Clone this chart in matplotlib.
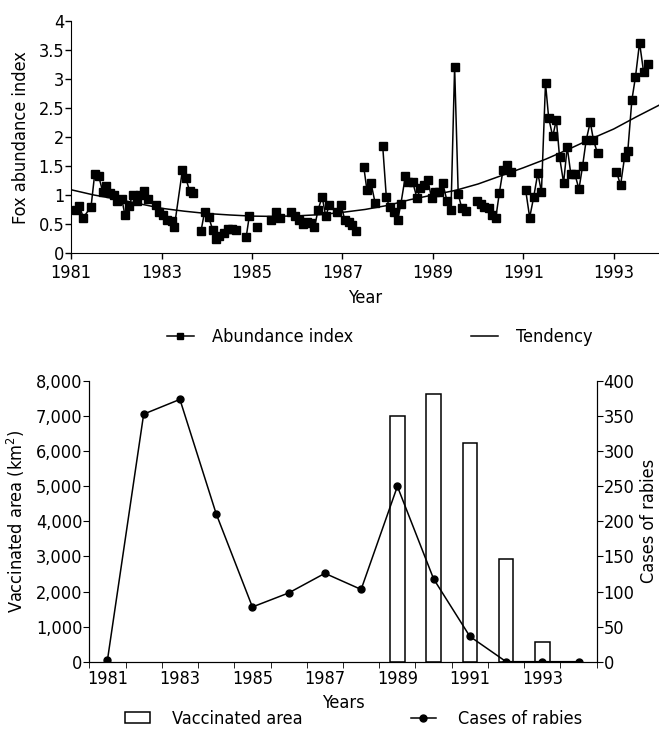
import numpy as np
import matplotlib
matplotlib.use("Agg")
import matplotlib.pyplot as plt
from matplotlib.lines import Line2D
from matplotlib.patches import Patch
from matplotlib.ticker import FuncFormatter

plt.rcParams['font.family'] = ['DejaVu Sans']
plt.rcParams['font.stretch'] = 'condensed'   # closest to the narrow face of the original
FS = 13

nan = np.nan

# fox abundance index (monthly, nan = break in the series)
abund_year = [1981.10, 1981.18, 1981.27, 1981.44, 1981.52, 1981.61, 1981.70, 1981.77, 1981.86, 1981.95,
              1982.02, 1982.12, 1982.19, 1982.28, 1982.36, 1982.45, 1982.53, 1982.61, 1982.69, 1982.87,
              1982.95, 1983.04, 1983.13, 1983.22, 1983.28, 1983.46, 1983.53, 1983.62, 1983.69, 1983.78,
              1983.87, 1983.95, 1984.04, 1984.13, 1984.20, 1984.28, 1984.37, 1984.46, 1984.55, 1984.64,
              1984.75, 1984.87, 1984.94, 1985.03, 1985.12, 1985.30, 1985.43, 1985.53, 1985.62, 1985.75,
              1985.87, 1985.96, 1986.04, 1986.13, 1986.21, 1986.30, 1986.38, 1986.46, 1986.55, 1986.63,
              1986.71, 1986.88, 1986.97, 1987.05, 1987.14, 1987.22, 1987.30, 1987.38, 1987.47, 1987.54,
              1987.63, 1987.72, 1987.80, 1987.89, 1987.97, 1988.04, 1988.13, 1988.22, 1988.29, 1988.39,
              1988.46, 1988.55, 1988.65, 1988.72, 1988.81, 1988.89, 1988.97, 1989.05, 1989.14, 1989.22,
              1989.31, 1989.40, 1989.48, 1989.56, 1989.64, 1989.73, 1989.85, 1989.98, 1990.06, 1990.14,
              1990.23, 1990.31, 1990.39, 1990.47, 1990.55, 1990.64, 1990.73, 1990.90, 1991.05, 1991.14,
              1991.23, 1991.32, 1991.40, 1991.49, 1991.56, 1991.65, 1991.73, 1991.80, 1991.89, 1991.97,
              1992.05, 1992.14, 1992.23, 1992.31, 1992.39, 1992.48, 1992.55, 1992.64, 1992.85, 1993.06,
              1993.15, 1993.24, 1993.31, 1993.40, 1993.48, 1993.57, 1993.66, 1993.75]
abund_value = [0.74, 0.81, 0.61, 0.80, 1.36, 1.32, 1.05, 1.16, 1.04, 1.00,
               0.90, 0.93, 0.65, 0.81, 1.00, 0.90, 1.00, 1.07, 0.93, 0.83,
               0.71, 0.66, 0.57, 0.55, 0.44, 1.43, 1.30, 1.07, 1.04, nan,
               0.37, 0.71, 0.62, 0.40, 0.24, 0.29, 0.35, 0.41, 0.41, 0.40,
               nan, 0.27, 0.64, nan, 0.45, nan, 0.57, 0.71, 0.60, nan,
               0.71, 0.64, 0.57, 0.50, 0.54, 0.51, 0.44, 0.74, 0.97, 0.63,
               0.83, 0.70, 0.83, 0.57, 0.54, 0.49, 0.38, nan, 1.49, 1.09,
               1.21, 0.87, nan, 1.84, 0.96, 0.79, 0.70, 0.56, 0.84, 1.32,
               1.23, 1.23, 0.94, 1.12, 1.17, 1.26, 0.94, 1.05, 1.06, 1.20,
               0.90, 0.74, 3.21, 1.01, 0.77, 0.73, nan, 0.89, 0.84, 0.80,
               0.77, 0.66, 0.60, 1.04, 1.43, 1.52, 1.40, nan, 1.09, 0.61,
               0.97, 1.38, 1.05, 2.93, 2.33, 2.01, 2.30, 1.66, 1.21, 1.83,
               1.36, 1.36, 1.10, 1.50, 1.95, 2.26, 1.95, 1.72, nan, 1.40,
               1.17, 1.66, 1.76, 2.64, 3.04, 3.63, 3.12, 3.27]

tend_year = [1981.0, 1981.5, 1982.0, 1982.5, 1983.0, 1983.5, 1984.0, 1984.5, 1985.0, 1985.5,
             1986.0, 1986.5, 1987.0, 1987.5, 1988.0, 1988.5, 1989.0, 1989.5, 1990.0, 1990.5,
             1991.0, 1991.5, 1992.0, 1992.5, 1993.0, 1993.5, 1994.0]
tend_value = [1.09, 1.00, 0.93, 0.85, 0.77, 0.72, 0.68, 0.655, 0.635, 0.63,
              0.64, 0.66, 0.70, 0.75, 0.82, 0.92, 1.00, 1.08, 1.19, 1.33,
              1.47, 1.62, 1.79, 1.97, 2.14, 2.35, 2.55]

# rabies / vaccination
years = [1981, 1982, 1983, 1984, 1985, 1986, 1987, 1988, 1989, 1990, 1991, 1992, 1993, 1994]
rabies_cases = [2, 353, 374, 211, 78, 98, 126, 103, 250, 118, 36, 0, 0, 0]
vacc_years = [1989, 1990, 1991, 1992, 1993]
vacc_area = [7020, 7620, 6250, 2930, 570]

top_ticks = [1981, 1983, 1985, 1987, 1989, 1991, 1993]

fig = plt.figure(figsize=(6.59, 7.33), dpi=100)

# ---- top panel: fox abundance
ax1 = fig.add_axes([0.108, 0.655, 0.892, 0.316])
ax1.plot(abund_year, abund_value, color='black', lw=1.1, marker='s', ms=5.5,
         markerfacecolor='black', markeredgecolor='black')
ax1.plot(tend_year, tend_value, color='black', lw=1.1)
ax1.set_xlim(1981, 1994)
ax1.set_ylim(0, 4)
ax1.set_xticks(top_ticks)
ax1.set_yticks([0, 0.5, 1, 1.5, 2, 2.5, 3, 3.5, 4])
ax1.set_yticklabels(['0', '0.5', '1', '1.5', '2', '2.5', '3', '3.5', '4'])
ax1.spines['top'].set_visible(False)
ax1.spines['right'].set_visible(False)
ax1.tick_params(direction='out', length=4, width=1, labelsize=FS, pad=1)
ax1.tick_params(axis='x', pad=4)
ax1.set_xlabel('Year', fontsize=FS, labelpad=5)
ax1.set_ylabel('Fox abundance index', fontsize=FS, labelpad=6)

h1 = [Line2D([], [], color='black', lw=1.1, marker='s', ms=5),
      Line2D([], [], color='black', lw=1.1)]
fig.legend(h1, ['Abundance index', 'Tendency'], loc='center',
           bbox_to_anchor=(0.576, 1 - 337 / 733), ncol=2, frameon=False,
           fontsize=FS, handlelength=1.5, handletextpad=1.0, columnspacing=6.5)

# ---- bottom panel: vaccination and rabies
ax2 = fig.add_axes([0.1355, 0.0973, 0.77, 0.3827])
ax2.bar(vacc_years, vacc_area, width=0.4, color='white', edgecolor='black', lw=1.1, zorder=2)
ax2.set_xlim(1980.5, 1994.5)
ax2.set_ylim(0, 8000)
ax2.set_yticks(range(0, 8001, 1000))
ax2.yaxis.set_major_formatter(FuncFormatter(lambda v, p: f'{int(v):,}'))
ax2.set_xticks(top_ticks)
ax2.set_xticks(np.arange(1980.5, 1994.6, 1), minor=True)
ax2.tick_params(axis='x', which='major', length=0, labelsize=FS, pad=6)
ax2.tick_params(axis='x', which='minor', length=4, direction='out')
ax2.tick_params(axis='y', direction='out', length=4, labelsize=FS, pad=1)
ax2.spines['top'].set_visible(False)
ax2.set_xlabel('Years', fontsize=FS, labelpad=4)
ax2.set_ylabel('Vaccinated area (km$^2$)', fontsize=FS, labelpad=6)

ax3 = ax2.twinx()
ax3.plot(years, rabies_cases, color='black', lw=1.1, marker='o', ms=5, zorder=3)
ax3.set_ylim(0, 400)
ax3.set_yticks(range(0, 401, 50))
ax3.spines['top'].set_visible(False)
ax3.tick_params(axis='y', direction='out', length=4, labelsize=FS, pad=1)
fig.text(649 / 659, 0.0973 + 0.3827 / 2, 'Cases of rabies', rotation=90,
         ha='center', va='center', fontsize=FS)

h2 = [Patch(facecolor='white', edgecolor='black', lw=1.1),
      Line2D([], [], color='black', lw=1.1, marker='o', ms=5)]
fig.legend(h2, ['Vaccinated area', 'Cases of rabies'], loc='center',
           bbox_to_anchor=(0.536, 1 - 719 / 733), ncol=2, frameon=False,
           fontsize=FS, handlelength=1.4, handleheight=0.5, handletextpad=1.2,
           columnspacing=6.0)

fig.savefig('out.png', dpi=100)
